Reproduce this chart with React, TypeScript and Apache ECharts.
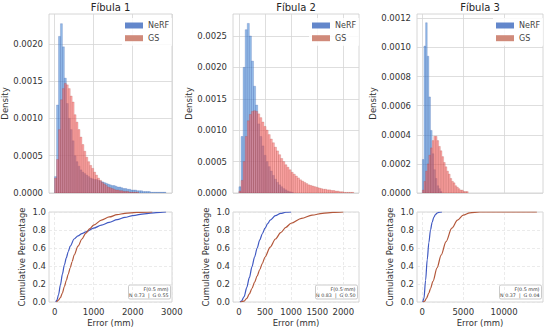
import React, { useEffect, useRef } from "react";
import * as echarts from "echarts";

// ---------- data ----------
const titles = ["Fíbula 1", "Fíbula 2", "Fíbula 3"];
const seriesNames = ["NeRF", "GS"];
const cdfNotes = ["N 0.73  |  G 0.55", "N 0.83  |  G 0.50", "N 0.37  |  G 0.04"];
const cdfNoteTitle = "F(0.5 mm)";

// histogram bins: start (mm), width (mm)
const binStart = [0, 0, 0];
const binWidth = [50, 40, 200];

// density per bin
const nerf1 = [
  0.00022, 0.00118, 0.0021, 0.00227, 0.00196, 0.00154, 0.0012, 0.001, 0.00085, 0.0007,
  0.0005, 0.00042, 0.00036, 0.00031, 0.00028, 0.00026, 0.00024, 0.00022, 0.0002, 0.00019,
  0.00018, 0.00018, 0.00017, 0.00016, 0.00015, 0.00014, 0.00013, 0.00012, 0.00011, 0.0001,
  0.0001, 0.00009, 0.00008, 0.00008, 0.00007, 0.00006, 0.00006, 0.00005, 0.00005, 0.00004,
  0.00004, 0.00004, 0.00003, 0.00003, 0.00003, 0.00002, 0.00002, 0.00002, 0.00002, 0.00001,
  0.00001, 0.00001, 0.00001, 0.00001, 0.00001, 0.00001, 0.00001,
];
const gs1 = [
  0.0002, 0.00045, 0.00085, 0.00125, 0.0014, 0.00147, 0.00145, 0.0014, 0.0013, 0.00122,
  0.00105, 0.00095, 0.00085, 0.00075, 0.00065, 0.00056, 0.00048, 0.00042, 0.00037, 0.00033,
  0.00028, 0.00024, 0.0002, 0.00017, 0.00014, 0.00012, 0.0001, 0.00008, 0.00007, 0.00006,
  0.00005, 0.00004, 0.00004, 0.00003, 0.00003, 0.00002, 0.00002, 0.00002, 0.00001, 0.00001,
  0.00001, 0.00001, 0.00001,
];
const nerf2 = [
  0.0001, 0.0009, 0.002, 0.0026, 0.0027, 0.0025, 0.0021, 0.0017, 0.0014, 0.0011,
  0.0009, 0.00075, 0.0006, 0.0005, 0.00042, 0.00035, 0.00028, 0.00022, 0.00017, 0.00013,
  0.0001, 0.00007, 0.00005, 0.00003, 0.00002, 0.00001,
];
const gs2 = [
  0.00003, 0.0002, 0.0005, 0.0009, 0.00115, 0.00125, 0.0013, 0.00131, 0.0013, 0.00126,
  0.0012, 0.00113, 0.00106, 0.001, 0.00093, 0.00086, 0.0008, 0.00073, 0.00067, 0.00061,
  0.00055, 0.0005, 0.00045, 0.00041, 0.00037, 0.00033, 0.0003, 0.00027, 0.00024, 0.00021,
  0.00019, 0.00017, 0.00015, 0.00013, 0.00012, 0.00011, 0.0001, 0.00009, 0.00008, 0.00007,
  0.00006, 0.00006, 0.00005, 0.00005, 0.00004, 0.00004, 0.00003, 0.00003, 0.00002, 0.00002,
  0.00001, 0.00001, 0.00001, 0.00001, 0.00001,
];
const nerf3 = [
  0.00023, 0.00101, 0.00117, 0.00094, 0.00066, 0.00043, 0.00027, 0.00016, 0.0001, 0.00005,
  0.00003, 0.00001,
];
const gs3 = [
  0.00002, 0.00008, 0.00015, 0.0002, 0.00026, 0.00031, 0.00036, 0.00039, 0.00039, 0.00036,
  0.00032, 0.00029, 0.00025, 0.00021, 0.00018, 0.00015, 0.00013, 0.0001, 0.00008, 0.00007,
  0.00005, 0.00004, 0.00003, 0.00002, 0.00002, 0.00001, 0.00001, 0.00001,
];

// cumulative curves [error mm, fraction]
const cdfNerf1: [number, number][] = [
  [30, 0], [60, 0.02], [100, 0.08], [150, 0.19], [200, 0.31], [250, 0.41], [300, 0.49],
  [350, 0.56], [400, 0.62], [500, 0.7], [600, 0.735], [700, 0.76], [800, 0.78], [1000, 0.82],
  [1200, 0.855], [1400, 0.885], [1600, 0.915], [1800, 0.94], [2000, 0.96], [2300, 0.98],
  [2600, 0.993], [2850, 1.0],
];
const cdfGs1: [number, number][] = [
  [50, 0], [100, 0.02], [150, 0.05], [200, 0.1], [250, 0.17], [300, 0.24], [350, 0.31],
  [400, 0.38], [450, 0.45], [500, 0.52], [600, 0.62], [700, 0.7], [800, 0.765], [900, 0.815],
  [1000, 0.855], [1200, 0.91], [1400, 0.945], [1600, 0.97], [1800, 0.985], [2100, 0.995],
  [2500, 1.0],
];
const cdfNerf2: [number, number][] = [
  [20, 0], [50, 0.01], [100, 0.06], [150, 0.16], [200, 0.27], [250, 0.39], [300, 0.5],
  [350, 0.6], [400, 0.69], [450, 0.76], [500, 0.82], [550, 0.87], [600, 0.91], [700, 0.96],
  [800, 0.985], [900, 0.997], [1000, 1.0],
];
const cdfGs2: [number, number][] = [
  [30, 0], [100, 0.01], [150, 0.04], [200, 0.09], [250, 0.15], [300, 0.22], [350, 0.29],
  [400, 0.36], [450, 0.43], [500, 0.5], [600, 0.61], [700, 0.7], [800, 0.77], [900, 0.83],
  [1000, 0.875], [1200, 0.93], [1400, 0.965], [1600, 0.985], [1800, 0.995], [2000, 1.0],
];
const cdfNerf3: [number, number][] = [
  [50, 0], [200, 0.04], [400, 0.24], [600, 0.47], [800, 0.66], [1000, 0.8], [1200, 0.885],
  [1400, 0.94], [1600, 0.97], [1800, 0.988], [2000, 0.996], [2400, 1.0],
];
const cdfGs3: [number, number][] = [
  [100, 0], [300, 0.01], [500, 0.04], [800, 0.1], [1000, 0.15], [1300, 0.23], [1800, 0.38],
  [2300, 0.52], [2900, 0.67], [3600, 0.82], [4300, 0.91], [5000, 0.965], [5800, 0.99],
  [7000, 1.0], [14000, 1.0],
];

// axes
const xMin = [-143, -113, -650];
const xMax = [3005, 2300, 14750];
const xTicks = [
  [0, 1000, 2000, 3000],
  [0, 500, 1000, 1500, 2000],
  [0, 5000, 10000],
];
const yMaxTop = [0.0024, 0.00285, 0.00123];
const yTicksTop = [
  [0, 0.0005, 0.001, 0.0015, 0.002],
  [0, 0.0005, 0.001, 0.0015, 0.002, 0.0025],
  [0, 0.0002, 0.0004, 0.0006, 0.0008, 0.001, 0.0012],
];
const yTicksCdf = [0, 0.2, 0.4, 0.6, 0.8, 1.0];

const nerfHists = [nerf1, nerf2, nerf3];
const gsHists = [gs1, gs2, gs3];
const nerfCdfs = [cdfNerf1, cdfNerf2, cdfNerf3];
const gsCdfs = [cdfGs1, cdfGs2, cdfGs3];

// ---------- layout / style ----------
const FONT = "DejaVu Sans";
const TXT = "#333333";
const panelLeft = [49, 233, 417];
const panelWidth = [123, 126, 126];
const topTop = 14;
const topHeight = 179;
const botTop = 212;
const botHeight = 90;

const NERF_FILL = "rgba(80,145,218,0.62)";
const NERF_STROKE = "rgba(55,85,165,0.45)";
const GS_FILL = "rgba(252,95,95,0.55)";
const GS_STROKE = "rgba(160,60,50,0.4)";
const NERF_LEGEND = "#6387cb";
const GS_LEGEND = "#d08a7a";
const NERF_LINE = "#4059c2";
const GS_LINE = "#b3573a";

function histSeries(name: string, idx: number, values: number[], fill: string, stroke: string, legendColor: string) {
  const data = values.map((v, i) => [
    binStart[idx] + i * binWidth[idx],
    binStart[idx] + (i + 1) * binWidth[idx],
    v,
  ]);
  return {
    type: "custom",
    name,
    xAxisIndex: idx,
    yAxisIndex: idx,
    data,
    clip: true,
    itemStyle: { color: legendColor },
    encode: { x: [0, 1], y: 2 },
    renderItem: (_params: any, api: any) => {
      const a = api.coord([api.value(0), api.value(2)]);
      const b = api.coord([api.value(1), 0]);
      return {
        type: "rect",
        shape: { x: a[0], y: a[1], width: b[0] - a[0], height: b[1] - a[1] },
        style: { fill, stroke, lineWidth: 0.5 },
      };
    },
  };
}

function buildOption() {
  const grid: any[] = [];
  const xAxis: any[] = [];
  const yAxis: any[] = [];
  const series: any[] = [];
  const legend: any[] = [];
  const title: any[] = [];
  const graphic: any[] = [];

  for (let i = 0; i < 3; i++) {
    grid.push({
      left: panelLeft[i], top: topTop, width: panelWidth[i], height: topHeight,
      show: true, borderColor: "#cccccc", borderWidth: 0.8, backgroundColor: "#ffffff",
      containLabel: false, outerBoundsMode: "none",
    });
  }
  for (let i = 0; i < 3; i++) {
    grid.push({
      left: panelLeft[i], top: botTop, width: panelWidth[i], height: botHeight,
      show: true, borderColor: "#cccccc", borderWidth: 0.8, backgroundColor: "#ffffff",
      containLabel: false, outerBoundsMode: "none",
    });
  }

  for (let i = 0; i < 3; i++) {
    xAxis.push({
      type: "value", gridIndex: i, min: xMin[i], max: xMax[i],
      axisLine: { show: false },
      axisTick: { show: false, customValues: xTicks[i] },
      axisLabel: { show: false, customValues: xTicks[i] },
      splitLine: { show: true, lineStyle: { color: "#d6d6d6", width: 0.8 } },
    });
    yAxis.push({
      type: "value", gridIndex: i, min: 0, max: yMaxTop[i],
      axisLine: { show: false },
      axisTick: { show: false, customValues: yTicksTop[i] },
      axisLabel: {
        customValues: yTicksTop[i], formatter: (v: number) => v.toFixed(4),
        fontSize: 8.5, color: TXT, fontFamily: FONT, margin: 6,
      },
      splitLine: { show: true, lineStyle: { color: "#d6d6d6", width: 0.8 } },
      name: "Density", nameLocation: "middle", nameGap: 37.5,
      nameTextStyle: { fontSize: 8.5, color: TXT, fontFamily: FONT },
    });
  }
  for (let i = 0; i < 3; i++) {
    xAxis.push({
      type: "value", gridIndex: i + 3, min: xMin[i], max: xMax[i],
      axisLine: { show: false },
      axisTick: { show: false, customValues: xTicks[i] },
      axisLabel: {
        customValues: xTicks[i], formatter: (v: number) => String(v),
        fontSize: 8.5, color: TXT, fontFamily: FONT, margin: 5,
      },
      splitLine: { show: true, lineStyle: { color: "#e2e2e2", width: 0.7, type: [3, 2] } },
      name: "Error (mm)", nameLocation: "middle", nameGap: 16,
      nameTextStyle: { fontSize: 8.5, color: TXT, fontFamily: FONT },
    });
    yAxis.push({
      type: "value", gridIndex: i + 3, min: 0, max: 1,
      axisLine: { show: false },
      axisTick: { show: false, customValues: yTicksCdf },
      axisLabel: {
        customValues: yTicksCdf, formatter: (v: number) => v.toFixed(1),
        fontSize: 8.5, color: TXT, fontFamily: FONT, margin: 3,
      },
      splitLine: { show: true, lineStyle: { color: "#e2e2e2", width: 0.7, type: [3, 2] } },
      name: "Cumulative Percentage", nameLocation: "middle", nameGap: 23,
      nameTextStyle: { fontSize: 8.5, color: TXT, fontFamily: FONT },
    });
  }

  for (let i = 0; i < 3; i++) {
    series.push(histSeries(seriesNames[0], i, nerfHists[i], NERF_FILL, NERF_STROKE, NERF_LEGEND));
    series.push(histSeries(seriesNames[1], i, gsHists[i], GS_FILL, GS_STROKE, GS_LEGEND));
    series.push({
      type: "line", name: seriesNames[0] + " CDF", xAxisIndex: i + 3, yAxisIndex: i + 3,
      data: nerfCdfs[i], showSymbol: false, smooth: 0.3, smoothMonotone: "x",
      lineStyle: { color: NERF_LINE, width: 1.2 }, itemStyle: { color: NERF_LINE }, clip: true,
    });
    series.push({
      type: "line", name: seriesNames[1] + " CDF", xAxisIndex: i + 3, yAxisIndex: i + 3,
      data: gsCdfs[i], showSymbol: false, smooth: 0.3, smoothMonotone: "x",
      lineStyle: { color: GS_LINE, width: 1.2 }, itemStyle: { color: GS_LINE }, clip: true,
    });

    const right = panelLeft[i] + panelWidth[i];
    legend.push({
      orient: "vertical", left: right - 50, top: 18,
      itemWidth: 18, itemHeight: 6, itemGap: 3.7, padding: [3, 3, 3, 3],
      backgroundColor: "rgba(255,255,255,0.85)", selectedMode: false,
      icon: "rect",
      textStyle: { fontSize: 8, color: "#444444", fontFamily: FONT, lineHeight: 9 },
      data: [
        { name: seriesNames[0], itemStyle: { color: NERF_LEGEND } },
        { name: seriesNames[1], itemStyle: { color: GS_LEGEND } },
      ],
    });

    title.push({
      text: titles[i], left: panelLeft[i] + panelWidth[i] / 2, top: 2, textAlign: "center",
      padding: 0,
      textStyle: { fontSize: 10, fontWeight: "normal", color: "#262626", fontFamily: FONT },
    });

    const bx = right - 43.5;
    graphic.push({
      type: "group",
      children: [
        {
          type: "rect", shape: { x: bx, y: 285, width: 42, height: 14, r: 1.5 },
          style: { fill: "#ffffff", stroke: "#a8a8a8", lineWidth: 0.6 },
        },
        {
          type: "text", x: bx + 40, y: 289,
          style: { text: cdfNoteTitle, fontSize: 4.8, fontFamily: FONT, fill: TXT, align: "right", verticalAlign: "middle" },
        },
        {
          type: "text", x: bx + 40, y: 295.3,
          style: { text: cdfNotes[i], fontSize: 4.8, fontFamily: FONT, fill: TXT, align: "right", verticalAlign: "middle" },
        },
      ],
    });
  }

  return {
    animation: false,
    backgroundColor: "#ffffff",
    textStyle: { fontFamily: FONT },
    title, grid, xAxis, yAxis, series, legend, graphic,
  };
}

export default function App() {
  const ref = useRef<HTMLDivElement>(null);
  useEffect(() => {
    if (!ref.current) return;
    const chart = echarts.init(ref.current, null, { renderer: "svg", width: 550, height: 330 });
    chart.setOption(buildOption() as any);
    return () => chart.dispose();
  }, []);
  return (
    <div
      ref={ref}
      style={{ position: "fixed", left: 0, top: 0, width: 550, height: 330, background: "#ffffff" }}
    />
  );
}
